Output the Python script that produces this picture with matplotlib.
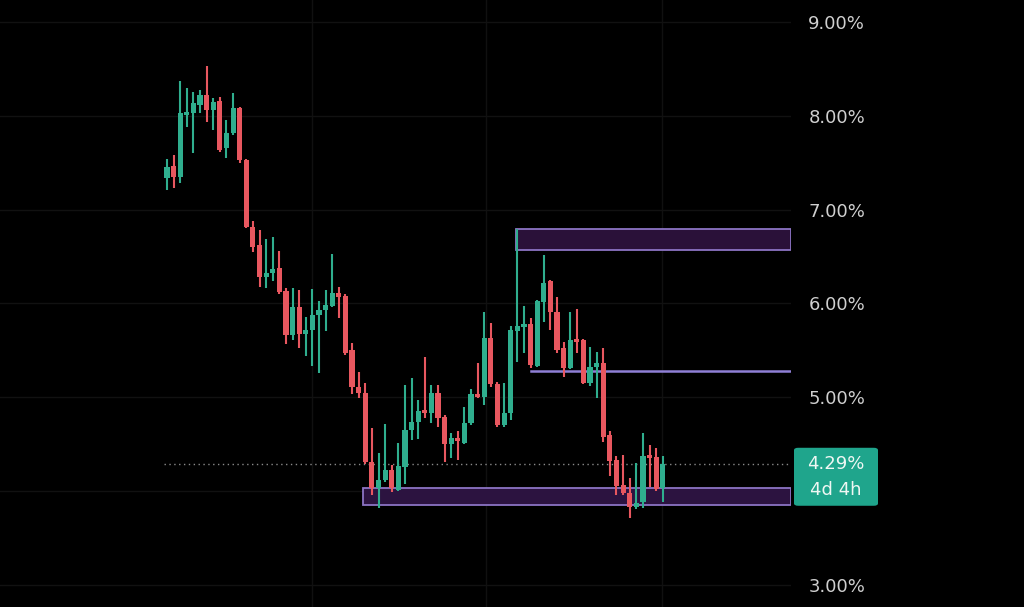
import matplotlib
matplotlib.use("Agg")
import matplotlib.pyplot as plt
from matplotlib.patches import Rectangle, FancyBboxPatch

# OHLC series (percent)
opens = [7.34, 7.46, 7.35, 8.01, 8.03, 8.12, 8.22, 8.06, 8.16, 7.66,
         7.82, 8.08, 7.53, 6.81, 6.62, 6.28, 6.32, 6.38, 6.13, 5.66,
         5.96, 5.67, 5.72, 5.88, 5.93, 5.97, 6.11, 6.08, 5.50, 5.11,
         5.04, 4.31, 4.03, 4.12, 4.22, 4.01, 4.26, 4.65, 4.74, 4.86,
         4.83, 5.04, 4.79, 4.50, 4.56, 4.51, 4.72, 5.03, 5.00, 5.63,
         5.14, 4.70, 4.83, 5.71, 5.75, 5.78, 5.33, 6.01, 6.24, 5.91,
         5.52, 5.31, 5.62, 5.61, 5.15, 5.32, 5.36, 4.60, 4.33, 4.06,
         3.98, 3.83, 3.88, 4.37, 4.36, 4.03]
highs = [7.54, 7.58, 8.37, 8.30, 8.25, 8.28, 8.53, 8.19, 8.20, 7.96,
         8.24, 8.09, 7.54, 6.88, 6.78, 6.69, 6.71, 6.56, 6.16, 6.16,
         6.14, 5.86, 6.15, 6.03, 6.14, 6.53, 6.17, 6.10, 5.58, 5.27,
         5.15, 4.67, 4.41, 4.71, 4.28, 4.51, 5.13, 5.20, 4.97, 5.43,
         5.13, 5.13, 4.81, 4.62, 4.64, 4.90, 5.09, 5.36, 5.91, 5.79,
         5.16, 5.15, 5.76, 6.79, 5.97, 5.84, 6.04, 6.52, 6.25, 6.07,
         5.59, 5.91, 5.94, 5.62, 5.54, 5.48, 5.52, 4.64, 4.37, 4.38,
         4.14, 4.30, 4.62, 4.49, 4.46, 4.37]
lows = [7.21, 7.23, 7.28, 7.88, 7.60, 8.03, 7.93, 7.85, 7.61, 7.55,
        7.80, 7.50, 6.80, 6.55, 6.17, 6.16, 6.24, 6.10, 5.57, 5.61,
        5.52, 5.44, 5.33, 5.26, 5.71, 5.96, 5.84, 5.45, 5.03, 4.99,
        4.29, 3.96, 3.82, 4.10, 3.99, 4.00, 4.07, 4.54, 4.55, 4.78,
        4.72, 4.68, 4.31, 4.35, 4.33, 4.50, 4.70, 4.99, 4.92, 5.11,
        4.68, 4.68, 4.76, 5.38, 5.47, 5.31, 5.32, 5.80, 5.72, 5.47,
        5.22, 5.30, 5.47, 5.14, 5.12, 4.99, 4.52, 4.16, 3.96, 3.96,
        3.71, 3.81, 3.82, 4.04, 4.00, 3.88]
closes = [7.45, 7.35, 8.03, 8.04, 8.14, 8.22, 8.06, 8.15, 7.64, 7.82,
          8.08, 7.53, 6.81, 6.60, 6.28, 6.32, 6.37, 6.12, 5.66, 5.96,
          5.67, 5.72, 5.88, 5.93, 5.98, 6.11, 6.07, 5.47, 5.11, 5.04,
          4.31, 4.03, 4.12, 4.22, 4.03, 4.27, 4.65, 4.74, 4.85, 4.83,
          5.04, 4.78, 4.50, 4.56, 4.53, 4.72, 5.03, 5.00, 5.63, 5.14,
          4.70, 4.83, 5.72, 5.76, 5.77, 5.34, 6.03, 6.22, 5.91, 5.50,
          5.31, 5.61, 5.59, 5.15, 5.32, 5.36, 4.58, 4.32, 4.05, 3.98,
          3.83, 3.87, 4.37, 4.35, 4.02, 4.29]

price_ticks = [3, 4, 5, 6, 7, 8, 9]
price_labels = ["3.00%", "", "5.00%", "6.00%", "7.00%", "8.00%", "9.00%"]
last_price = 4.29
countdown = "4d 4h"

supply_zone = (6.57, 6.79)   # (bottom, top)
supply_start = 53
mid_level = 5.28
mid_start = 55
demand_zone = (3.85, 4.03)
demand_start = 30

UP = "#2fae8e"
DOWN = "#e8575f"
BG = "#000000"

W, H = 1024, 607
fig = plt.figure(figsize=(W / 100, H / 100), dpi=100, facecolor=BG)
ax = fig.add_axes([0, 0, 791 / W, 1])
ax.set_facecolor(BG)

xmin, xmax = -25.26, 94.4
ymin, ymax = 2.763, 9.2345
ax.set_xlim(xmin, xmax)
ax.set_ylim(ymin, ymax)

# grid
for gx in [21.9, 48.2, 74.9]:
    ax.axvline(gx, color="#101010", lw=1.0, zorder=0)
for gy in price_ticks:
    ax.axhline(gy, color="#111111", lw=1.0, zorder=0)

# zones
zone_fill = "#2a1139"
zone_edge = "#8c74c4"
ax.add_patch(Rectangle((supply_start - 0.15, supply_zone[0]), xmax - supply_start + 0.15,
                       supply_zone[1] - supply_zone[0], facecolor=zone_fill,
                       edgecolor=zone_edge, lw=1.3, zorder=1))
ax.add_patch(Rectangle((demand_start - 0.35, demand_zone[0]), xmax - demand_start + 0.35,
                       demand_zone[1] - demand_zone[0], facecolor="#2c1340",
                       edgecolor=zone_edge, lw=1.3, zorder=1))
ax.plot([mid_start, xmax], [mid_level, mid_level], color="#8f7fd6", lw=1.8, zorder=1)

# last price dotted line
ax.plot([-0.4, xmax], [last_price, last_price], color="#8a8a8a", lw=1.0,
        linestyle=(0, (1, 2.5)), zorder=1)

# candles
idx = list(range(len(opens)))
for i, o, h, l, c in zip(idx, opens, highs, lows, closes):
    col = UP if c >= o else DOWN
    ax.vlines(i, l, h, color=col, lw=1.5, zorder=3)
    bottom = min(o, c)
    height = max(abs(c - o), 0.035)
    ax.bar(i, height, bottom=bottom, width=0.78, color=col, edgecolor="none", zorder=4)

# right price scale
ax.yaxis.tick_right()
ax.set_yticks(price_ticks)
ax.set_yticklabels(price_labels)
ax.tick_params(axis="y", length=0, pad=12.5, labelsize=13, labelcolor="#cfcfcf")
ax.set_xticks([])
for s in ax.spines.values():
    s.set_visible(False)

# last price badge
fy = (last_price - ymin) / (ymax - ymin)
bx, bw = 794 / W, 84 / W
top_off = 16 / H
bh = 58 / H
badge = FancyBboxPatch((bx, fy + top_off - bh), bw, bh,
                       boxstyle="round,pad=0,rounding_size=0.004",
                       transform=fig.transFigure, facecolor="#1fa58c",
                       edgecolor="none", zorder=5)
fig.patches.append(badge)
fig.text(bx + bw / 2, fy, f"{last_price:.2f}%", ha="center", va="center",
         color="#eef7f3", fontsize=13, zorder=10)
fig.text(bx + bw / 2, fy - 26 / H, countdown, ha="center", va="center",
         color="#eef7f3", fontsize=13, zorder=10)

fig.savefig("out.png", dpi=100, facecolor=BG)
